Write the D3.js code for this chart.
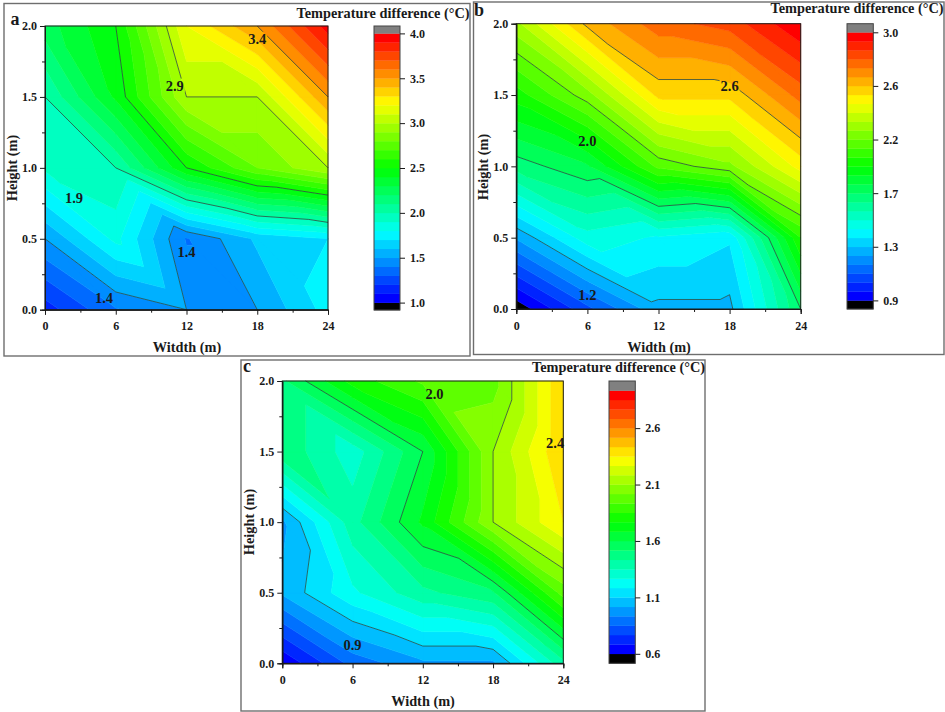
<!DOCTYPE html>
<html>
<head>
<meta charset="utf-8">
<script src="https://cdn.jsdelivr.net/npm/d3@7"></script>
<style>
	body { margin: 0; background: #fff; }
	svg { display: block; }
	text { font-family: "Liberation Serif", serif; font-weight: bold; fill: #1a1a1a; }
	.tick text { font-size: 12px; }
	.tick line, .domain { stroke: #1a1a1a; }
</style>
</head>
<body>
<svg width="945" height="712"></svg>
<script>
var width_ticks = [0, 6, 12, 18, 24];
var width_minor = [3, 9, 15, 21];
var height_ticks = [0, 0.5, 1, 1.5, 2];
var height_minor = [0.25, 0.75, 1.25, 1.75];

// Values on the measuring grid: one row per height (bottom up), one column per width
var grid_a = [
	[1.15, 1.39, 1.5, 1.5, 1.74],
	[1.5, 1.83, 1.39, 1.62, 1.7],
	[1.92, 2.0, 2.5, 2.8, 3.0],
	[2.0, 2.42, 3.0, 3.0, 3.5],
	[2.25, 2.5, 3.2, 3.5, 3.95]
];
var grid_b = [
	[0.85, 1.09, 1.30, 1.30, 1.74],
	[1.26, 1.5, 1.45, 1.40, 2.02],
	[1.70, 1.80, 2.11, 2.21, 2.47],
	[1.985, 2.2, 2.53, 2.53, 2.75],
	[2.28, 2.6, 2.76, 2.82, 2.995]
];
var grid_c = [
	[0.61, 0.88, 1.0, 1.0, 1.41],
	[1.03, 1.25, 1.41, 1.505, 1.97],
	[1.0, 1.4, 1.7, 2.1, 2.35],
	[1.5, 1.3, 1.6, 2.1, 2.43],
	[1.5, 1.8, 1.95, 1.98, 2.43]
];

var lines_a = [1.5, 2.0, 2.5, 3.0, 3.5];
var lines_b = [1.32, 1.74, 2.16, 2.58];
var lines_c = [1.1, 1.6, 2.1];

var labels_a = [['3.4', 18, 1.91], ['2.9', 11, 1.58], ['1.9', 2.46, 0.79], ['1.4', 5, 0.08], ['1.4', 12, 0.41]];
var labels_b = [['2.6', 18, 1.56], ['2.0', 6, 1.18], ['1.2', 6, 0.1]];
var labels_c = [['2.0', 13, 1.91], ['2.4', 23.3, 1.56], ['0.9', 6, 0.13]];

var bar_ticks_a = [1.0, 1.5, 2.0, 2.5, 3.0, 3.5, 4.0];
var bar_ticks_b = [0.9, 1.32, 1.74, 2.16, 2.58, 3.0];
var bar_ticks_c = [0.6, 1.1, 1.6, 2.1, 2.6];

var svg = d3.select('svg');
var rainbow = d3.scaleLinear()
	.domain([0, 0.25, 0.5, 0.75, 1])
	.range(['#0000ff', '#00ffff', '#00ff00', '#ffff00', '#ff0000']);

draw_panel({
	id: 'a', letter: [15, 25], title: 'Temperature difference (°C)', frame: [4, 3.5, 470, 356],
	plot: [45, 26, 328, 309.7], bar: [374, 26, 400, 310], cap: 7.4, title_pos: [383, 18],
	xname: 'Witdth (m)', xname_pos: [187, 352], yname_x: 12, yname_y: 168,
	grid: grid_a, lines: lines_a, labels: labels_a, bar_ticks: bar_ticks_a,
	low: 1.0, step: 0.1, bands: 30
});
draw_panel({
	id: 'b', letter: [479, 16], title: 'Temperature difference (°C)', frame: [473.5, 2, 944, 354.5],
	plot: [516.3, 23.7, 800.7, 309], bar: [847, 23.7, 873.3, 309], cap: 8.6, title_pos: [857, 13],
	xname: 'Width (m)', xname_pos: [659, 352], yname_x: 483, yname_y: 167,
	grid: grid_b, lines: lines_b, labels: labels_b, bar_ticks: bar_ticks_b,
	low: 0.9, step: 0.07, bands: 30
});
draw_panel({
	id: 'c', letter: [247, 372], title: 'Temperature difference (°C)', frame: [241, 360, 705, 711],
	plot: [282.3, 381, 563.3, 663.3], bar: [609, 381, 635.3, 663.3], cap: 9.5, title_pos: [618.5, 372],
	xname: 'Width (m)', xname_pos: [423, 706], yname_x: 249, yname_y: 522,
	grid: grid_c, lines: lines_c, labels: labels_c, bar_ticks: bar_ticks_c,
	low: 0.6, step: 1 / 12, bands: 28
});

function draw_panel(p)
{
	var root = svg.append('g');
	var x = d3.scaleLinear().domain([0, 24]).range([p.plot[0], p.plot[2]]);
	var y = d3.scaleLinear().domain([0, 2]).range([p.plot[3], p.plot[1]]);
	var triangles = build_triangles(p.grid);

	root.append('rect')
		.attr('x', p.frame[0]).attr('y', p.frame[1])
		.attr('width', p.frame[2] - p.frame[0]).attr('height', p.frame[3] - p.frame[1])
		.attr('fill', 'none').attr('stroke', '#6e6e6e').attr('stroke-width', 1.4);

	// Filled bands, black below the range and grey above it
	var bands = [{ lo: -Infinity, hi: p.low, color: '#000000' }];
	for(var i = 0; i < p.bands; i++)
		bands.push({ lo: p.low + i * p.step, hi: p.low + (i + 1) * p.step, color: rainbow(i / (p.bands - 1)) });
	bands.push({ lo: p.low + p.bands * p.step, hi: Infinity, color: '#808080' });

	var line_path = d3.line().x(d => x(d[0])).y(d => y(d[1]));
	var fill = root.append('g');
	bands.forEach(function(b)
	{
		var d = triangles.map(t => clip_band(t, b.lo, b.hi))
			.filter(poly => poly.length > 2)
			.map(poly => line_path(poly) + 'Z')
			.join('');
		fill.append('path')
			.attr('d', d)
			.attr('fill', b.color)
			.attr('stroke', b.color)
			.attr('stroke-width', 0.5)
			.attr('stroke-linejoin', 'round');
	});

	// Contour lines, broken around their labels
	var mask = root.append('mask')
		.attr('id', 'gaps_' + p.id)
		.attr('maskUnits', 'userSpaceOnUse')
		.attr('x', 0).attr('y', 0).attr('width', 945).attr('height', 712);
	mask.append('rect').attr('width', 945).attr('height', 712).attr('fill', '#fff');
	mask.selectAll('.gap')
		.data(p.labels)
		.enter().append('rect')
		.attr('class', 'gap')
		.attr('x', d => x(d[1]) - 10)
		.attr('y', d => y(d[2]) - 7)
		.attr('width', 20)
		.attr('height', 14)
		.attr('fill', '#000');
	root.append('g')
		.attr('mask', 'url(#gaps_' + p.id + ')')
		.selectAll('path')
		.data(p.lines)
		.enter().append('path')
		.attr('d', level => triangles.map(t => contour_segment(t, level))
			.filter(s => s.length === 2)
			.map(s => line_path(s))
			.join(''))
		.attr('fill', 'none')
		.attr('stroke', '#2c4a42')
		.attr('stroke-width', 0.8);
	root.selectAll('.contour_label')
		.data(p.labels)
		.enter().append('text')
		.attr('class', 'contour_label')
		.attr('x', d => x(d[1]))
		.attr('y', d => y(d[2]))
		.attr('text-anchor', 'middle')
		.attr('dominant-baseline', 'central')
		.attr('font-size', 14.5)
		.text(d => d[0]);

	// Axes
	root.append('rect')
		.attr('x', p.plot[0]).attr('y', p.plot[1])
		.attr('width', p.plot[2] - p.plot[0]).attr('height', p.plot[3] - p.plot[1])
		.attr('fill', 'none').attr('stroke', '#1a1a1a').attr('stroke-width', 1);
	var bottom = root.append('g').attr('transform', 'translate(0,' + p.plot[3] + ')');
	bottom.call(d3.axisBottom(x).tickValues(width_ticks).tickFormat(d3.format('d')).tickSize(5).tickPadding(7));
	bottom.append('g').call(d3.axisBottom(x).tickValues(width_minor).tickFormat('').tickSize(3));
	var left = root.append('g').attr('transform', 'translate(' + p.plot[0] + ',0)');
	left.call(d3.axisLeft(y).tickValues(height_ticks).tickFormat(d3.format('.1f')).tickSize(5).tickPadding(3));
	left.append('g').call(d3.axisLeft(y).tickValues(height_minor).tickFormat('').tickSize(3));

	// Colour bar
	var bar_y = d3.scaleLinear()
		.domain([p.low, p.low + p.bands * p.step])
		.range([p.bar[3] - p.cap, p.bar[1] + p.cap]);
	root.selectAll('.bar_cell')
		.data(bands)
		.enter().append('rect')
		.attr('class', 'bar_cell')
		.attr('x', p.bar[0])
		.attr('width', p.bar[2] - p.bar[0])
		.attr('y', d => isFinite(d.hi) ? bar_y(d.hi) : p.bar[1])
		.attr('height', d => (isFinite(d.lo) ? bar_y(d.lo) : p.bar[3]) - (isFinite(d.hi) ? bar_y(d.hi) : p.bar[1]) + 0.3)
		.attr('fill', d => d.color);
	root.append('rect')
		.attr('x', p.bar[0]).attr('y', p.bar[1])
		.attr('width', p.bar[2] - p.bar[0]).attr('height', p.bar[3] - p.bar[1])
		.attr('fill', 'none').attr('stroke', '#444').attr('stroke-width', 1);
	var bar_axis = root.append('g')
		.attr('transform', 'translate(' + p.bar[2] + ',0)')
		.call(d3.axisRight(bar_y).tickValues(p.bar_ticks).tickFormat(d3.format('.1f')).tickSize(5).tickPadding(5));
	bar_axis.select('.domain').remove();

	// Titles
	root.append('text')
		.attr('x', p.title_pos[0]).attr('y', p.title_pos[1])
		.attr('text-anchor', 'middle').attr('font-size', 14.3)
		.text(p.title);
	root.append('text')
		.attr('x', p.xname_pos[0]).attr('y', p.xname_pos[1])
		.attr('text-anchor', 'middle').attr('font-size', 14.3)
		.text(p.xname);
	root.append('text')
		.attr('transform', 'translate(' + p.yname_x + ',' + p.yname_y + ') rotate(-90)')
		.attr('text-anchor', 'middle').attr('dominant-baseline', 'central').attr('font-size', 14.3)
		.text('Height (m)');
	root.append('text')
		.attr('x', p.letter[0]).attr('y', p.letter[1])
		.attr('text-anchor', 'middle').attr('font-size', 18)
		.text(p.id);
}

// Each cell is cut along the diagonal running from bottom right to top left
function build_triangles(grid)
{
	var out = [];
	function vertex(i, j) { return [width_ticks[i], height_ticks[j], grid[j][i]]; }
	for(var j = 0; j < height_ticks.length - 1; j++)
		for(var i = 0; i < width_ticks.length - 1; i++)
		{
			out.push([vertex(i, j), vertex(i + 1, j), vertex(i, j + 1)]);
			out.push([vertex(i + 1, j), vertex(i + 1, j + 1), vertex(i, j + 1)]);
		}
	return out;
}

function crossing(a, b, level)
{
	var t = (level - a[2]) / (b[2] - a[2]);
	return [a[0] + t * (b[0] - a[0]), a[1] + t * (b[1] - a[1]), level];
}

function clip_half(poly, level, keep_above)
{
	var out = [];
	poly.forEach(function(a, n)
	{
		var b = poly[(n + 1) % poly.length];
		var a_in = keep_above ? a[2] >= level : a[2] <= level;
		var b_in = keep_above ? b[2] >= level : b[2] <= level;
		if(a_in) out.push(a);
		if(a_in !== b_in) out.push(crossing(a, b, level));
	});
	return out;
}

function clip_band(triangle, lo, hi)
{
	var poly = triangle;
	if(isFinite(lo)) poly = clip_half(poly, lo, true);
	if(poly.length && isFinite(hi)) poly = clip_half(poly, hi, false);
	return poly;
}

function contour_segment(triangle, level)
{
	var l = level + 1e-6;
	var out = [];
	triangle.forEach(function(a, n)
	{
		var b = triangle[(n + 1) % 3];
		if((a[2] - l) * (b[2] - l) < 0) out.push(crossing(a, b, l));
	});
	return out;
}
</script>
</body>
</html>
